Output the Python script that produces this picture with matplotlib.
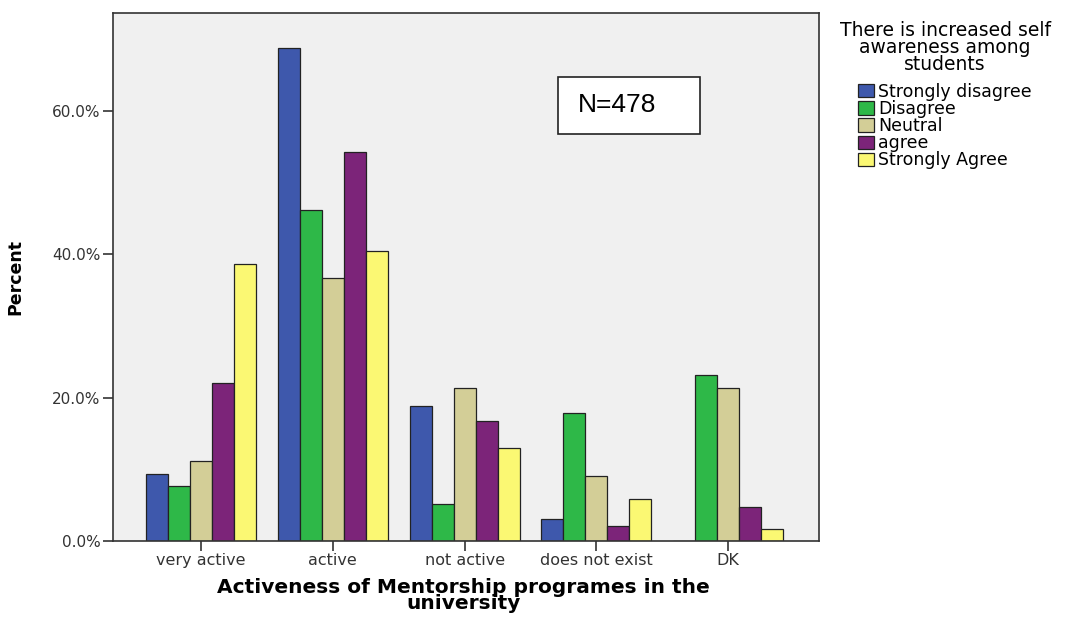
import numpy as np
import matplotlib
matplotlib.use('Agg')
import matplotlib.pyplot as plt
from matplotlib.patches import Rectangle

# 各类别 (x轴)
categories = ['very active', 'active', 'not active', 'does not exist', 'DK']
# 图例系列
series = ['Strongly disagree', 'Disagree', 'Neutral', 'agree', 'Strongly Agree']
colors = ['#3E58AC', '#2EB848', '#D3CE97', '#7C2479', '#FBF873']

# 百分比 (每个系列合计约100%)
strongly_disagree = [9.4, 68.8, 18.8, 3.1, 0.0]
disagree = [7.6, 46.1, 5.1, 17.9, 23.1]
neutral = [11.2, 36.7, 21.4, 9.1, 21.4]
agree = [22.1, 54.3, 16.7, 2.1, 4.8]
strongly_agree = [38.7, 40.5, 13.0, 5.9, 1.7]

values = [strongly_disagree, disagree, neutral, agree, strongly_agree]
yticks = [0, 20, 40, 60]

fig = plt.figure(figsize=(10.74, 6.17), dpi=100)
ax = fig.add_axes([0.105, 0.1232, 0.6576, 0.8564])
ax.set_facecolor('#F0F0F0')

x = np.arange(len(categories))
w = 0.167
for i, (name, vals) in enumerate(zip(series, values)):
    ax.bar(x + (i - 2) * w, vals, w, color=colors[i], edgecolor='#222222',
           linewidth=0.9, label=name)

ax.set_xlim(-0.67, 4.69)
ax.set_ylim(0, 73.7)
ax.set_xticks(x)
ax.set_xticklabels(categories, fontsize=11.5, color='#333333')
ax.set_yticks(yticks)
ax.set_yticklabels(['%.1f%%' % v for v in yticks], fontsize=11, color='#333333')
ax.tick_params(axis='both', direction='out', length=7, width=1.2, color='#333333', pad=2)

for s in ax.spines.values():
    s.set_color('#333333')
    s.set_linewidth(1.2)

ax.set_ylabel('Percent', fontsize=12.5, fontweight='bold')
ax.yaxis.set_label_coords(-0.125, 0.5)
ax.set_xlabel('Activeness of Mentorship programes in the\nuniversity',
              fontsize=14.5, fontweight='bold', linespacing=0.8)
ax.xaxis.set_label_coords(0.496, -0.07)

# N=478 框
ax.add_patch(Rectangle((0.630, 0.7708), 0.2014, 0.108, transform=ax.transAxes,
                       facecolor='white', edgecolor='#222222', linewidth=1.2, zorder=5))
ax.text(0.658, 0.825, 'N=478', transform=ax.transAxes, va='center', ha='left',
        fontsize=19, family=['Liberation Sans', 'DejaVu Sans'], zorder=6)

leg = ax.legend(title='There is increased self\nawareness among\nstudents',
                loc='upper left', bbox_to_anchor=(1.017, 1.0), frameon=False,
                fontsize=12.5, title_fontsize=13.5, labelspacing=-0.05,
                handlelength=0.9, handleheight=0.8, handletextpad=0.25,
                borderaxespad=0.1)
leg.get_title().set_multialignment('center')
leg.get_title().set_linespacing(0.85)
# 标题和条目之间留点空
leg._legend_box.sep = 6.5

plt.savefig('out.png', dpi=100)
